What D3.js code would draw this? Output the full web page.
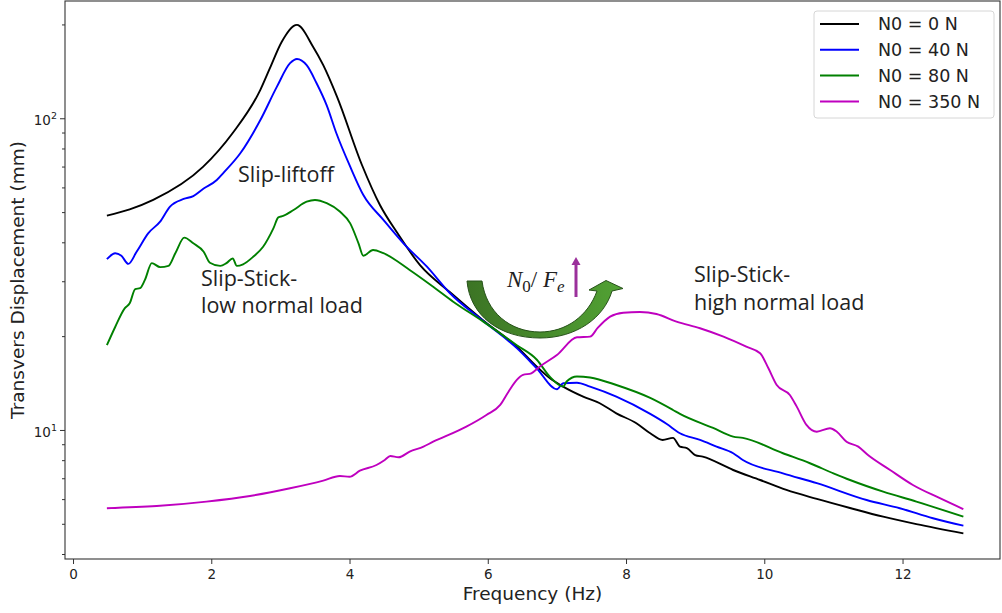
<!DOCTYPE html>
<html>
<head>
<meta charset="utf-8">
<script src="https://cdn.jsdelivr.net/npm/d3@7"></script>
<style>
  body { margin: 0; background: #fff; }
  svg { display: block; }
  text { font-family: "DejaVu Sans", sans-serif; fill: #222; }
</style>
</head>
<body>
<div id="chart"></div>
<script>
// values (frequency in Hz, displacement in mm)
const freq0 = [0.49,0.82,1.16,1.88,2.31,2.71,2.85,3.02,3.24,3.47,3.62,3.82,4.18,4.44,4.69,5.02,5.45,5.93,6.42,6.71,6.90,7.09,7.38,7.62,7.86,8.15,8.35,8.53,8.68,8.78,8.88,9.00,9.11,9.55,9.94,10.32,10.76,11.24,11.72,12.20,12.88];
const amp0 = [48.7,51.0,54.7,69.8,89.7,123.3,145,176,199.3,170,148,117.1,70.8,52.7,42.9,33.8,27.7,22.5,18.5,15.96,14.65,13.77,12.79,12.18,11.31,10.51,9.76,9.29,9.43,8.84,8.75,8.31,8.21,7.44,6.91,6.42,6.01,5.62,5.27,4.99,4.66];

const freq40 = [0.49,0.61,0.70,0.80,0.92,1.09,1.26,1.40,1.60,1.74,1.89,2.08,2.17,2.42,2.71,2.95,3.14,3.24,3.38,3.52,3.67,3.81,4.01,4.20,4.49,4.78,5.12,5.45,5.93,6.42,6.71,7.00,7.09,7.29,7.48,7.86,8.35,8.59,8.78,9.07,9.31,9.55,9.69,10.27,10.76,11.48,11.96,12.44,12.88];
const amp40 = [35.3,36.9,36.2,34.1,37.3,42.8,46.6,52.0,55.1,56.3,59.5,63.4,66.6,77.2,98.7,126.3,150.2,155.0,148,130,110,89.5,69.9,56.7,47.2,39.7,33.4,27.5,22.4,18.3,15.75,13.51,14.12,14.18,13.77,12.79,11.26,10.45,9.76,9.29,8.84,8.42,8.01,7.26,6.75,5.96,5.61,5.21,4.93];

const freq80 = [0.49,0.61,0.75,0.82,0.90,0.97,1.04,1.14,1.26,1.38,1.48,1.61,1.74,1.89,1.98,2.13,2.22,2.31,2.37,2.46,2.61,2.75,2.90,2.97,3.04,3.19,3.38,3.50,3.67,3.86,4.01,4.13,4.20,4.34,4.49,4.87,5.21,5.50,5.93,6.42,6.71,6.90,7.09,7.14,7.29,7.48,7.86,8.35,8.68,8.78,9.26,9.55,9.69,10.27,10.66,11.00,11.24,11.72,12.20,12.88];
const amp80 = [18.7,21.4,24.6,25.5,28.3,28.5,30.3,34.3,33.3,33.6,36.9,41.4,39.7,37.3,34.4,33.6,34.3,35.5,33.6,34.0,36.0,38.7,44.4,48.1,48.6,50.8,54.0,54.7,53.4,50.2,46.0,39.7,36.2,37.8,36.9,32.6,28.8,25.8,22.3,18.7,16.8,14.8,13.77,14.3,14.85,14.74,13.94,12.67,11.59,11.26,10.15,9.52,9.43,8.42,7.82,7.26,6.91,6.34,5.89,5.27];

const freq350 = [0.49,1.21,1.93,2.56,3.14,3.62,3.86,4.00,4.15,4.39,4.51,4.59,4.71,4.87,5.07,5.21,5.36,5.69,5.98,6.18,6.30,6.42,6.51,6.63,6.75,7.00,7.29,7.48,7.59,7.77,7.96,8.20,8.44,8.73,9.07,9.41,9.74,9.94,10.06,10.18,10.37,10.47,10.61,10.76,10.95,11.05,11.19,11.36,11.50,11.82,12.15,12.54,12.88];
const amp350 = [5.61,5.70,5.89,6.14,6.50,6.88,7.12,7.08,7.40,7.72,8.01,8.25,8.17,8.52,8.84,9.17,9.48,10.25,11.17,12.03,13.27,14.47,15.02,15.20,15.96,17.40,19.83,19.92,21.25,23.09,23.78,23.91,23.56,22.26,21.20,19.92,18.50,17.62,15.77,13.94,12.95,11.88,10.38,9.87,10.13,9.87,9.17,8.84,8.31,7.44,6.66,6.04,5.57];

const seriesLabels = ["N0 = 0 N", "N0 = 40 N", "N0 = 80 N", "N0 = 350 N"];
const seriesColors = ["#000000", "#0000ff", "#008000", "#bf00bf"];
const xTicks = [0, 2, 4, 6, 8, 10, 12];
const yMajorTicks = [10, 100];
const yMajorExp = ["1", "2"];
const yMinorTicks = [4, 5, 6, 7, 8, 9, 20, 30, 40, 50, 60, 70, 80, 90, 200];

const series = [
  { label: seriesLabels[0], color: seriesColors[0], f: freq0, a: amp0 },
  { label: seriesLabels[1], color: seriesColors[1], f: freq40, a: amp40 },
  { label: seriesLabels[2], color: seriesColors[2], f: freq80, a: amp80 },
  { label: seriesLabels[3], color: seriesColors[3], f: freq350, a: amp350 }
];

const W = 1002, H = 613;
const plotLeft = 65, plotRight = 1000, plotTop = 1, plotBottom = 559;

const svg = d3.select("#chart").append("svg")
  .attr("width", W).attr("height", H);

const x = d3.scaleLinear().domain([-0.116, 13.41]).range([plotLeft, plotRight]);
const y = d3.scaleLog().domain([3.855, 237.8]).range([plotBottom, plotTop]);

svg.append("clipPath").attr("id", "plot-clip")
  .append("rect").attr("x", plotLeft).attr("y", plotTop)
  .attr("width", plotRight - plotLeft).attr("height", plotBottom - plotTop);

// lines
const line = d3.line()
  .x(d => x(d[0]))
  .y(d => y(d[1]))
  .curve(d3.curveMonotoneX);

svg.append("g").attr("clip-path", "url(#plot-clip)")
  .selectAll("path")
  .data(series)
  .enter()
  .append("path")
  .attr("d", s => line(s.f.map((f, i) => [f, s.a[i]])))
  .attr("fill", "none")
  .attr("stroke", s => s.color)
  .attr("stroke-width", 1.9)
  .attr("stroke-linejoin", "round");

// x axis
const xAxis = svg.append("g")
  .attr("transform", `translate(0,${plotBottom})`)
  .call(d3.axisBottom(x).tickValues(xTicks).tickSize(5).tickPadding(5));
xAxis.select(".domain").remove();
xAxis.selectAll("text").style("font-size", "13.5px").attr("fill", "#222");
xAxis.selectAll("line").attr("stroke", "#333");

// y axis major + minor
const yAxis = svg.append("g")
  .attr("transform", `translate(${plotLeft},0)`)
  .call(d3.axisLeft(y).tickValues(yMajorTicks).tickSize(5).tickFormat(""));
yAxis.select(".domain").remove();
yAxis.selectAll("line").attr("stroke", "#333");

const yMinor = svg.append("g")
  .attr("transform", `translate(${plotLeft},0)`)
  .call(d3.axisLeft(y).tickValues(yMinorTicks).tickSize(3).tickFormat(""));
yMinor.select(".domain").remove();
yMinor.selectAll("line").attr("stroke", "#333");

yMajorTicks.forEach((v, i) => {
  const t = svg.append("text")
    .attr("x", plotLeft - 8)
    .attr("y", y(v) + 7)
    .attr("text-anchor", "end")
    .style("font-size", "13.5px");
  t.append("tspan").text("10");
  t.append("tspan").attr("dy", -6).style("font-size", "9.5px").text(yMajorExp[i]);
});

// spines
svg.append("rect")
  .attr("x", plotLeft).attr("y", plotTop)
  .attr("width", plotRight - plotLeft).attr("height", plotBottom - plotTop)
  .attr("fill", "none").attr("stroke", "#333").attr("stroke-width", 1.1);

// axis labels
svg.append("text")
  .attr("x", (plotLeft + plotRight) / 2).attr("y", 600)
  .attr("text-anchor", "middle")
  .style("font-size", "18.5px")
  .text("Frequency (Hz)");

svg.append("text")
  .attr("transform", `translate(24,${(plotTop + plotBottom) / 2}) rotate(-90)`)
  .attr("text-anchor", "middle")
  .style("font-size", "18.5px")
  .text("Transvers Displacement (mm)");

// legend
const lg = svg.append("g");
lg.append("rect")
  .attr("x", 814).attr("y", 11).attr("width", 180).attr("height", 107)
  .attr("rx", 3).attr("fill", "#fff").attr("stroke", "#d6d6d6");
series.forEach((s, i) => {
  const cy = 24 + i * 25.8;
  lg.append("line")
    .attr("x1", 820).attr("x2", 859).attr("y1", cy).attr("y2", cy)
    .attr("stroke", s.color).attr("stroke-width", 2);
  lg.append("text")
    .attr("x", 878).attr("y", cy + 6.3)
    .style("font-size", "17.5px")
    .text(s.label);
});

// annotations
const notes = [
  ["Slip-liftoff", 238, 182],
  ["Slip-Stick-", 201, 286],
  ["low normal load", 201, 313],
  ["Slip-Stick-", 694, 282],
  ["high normal load", 694, 310]
];
notes.forEach(n => {
  svg.append("text").attr("x", n[1]).attr("y", n[2])
    .style("font-family", "'Open Sans', sans-serif")
    .style("font-size", "21.5px").attr("fill", "#111").text(n[0]);
});

// curved green arrow
const grad = svg.append("defs").append("linearGradient")
  .attr("id", "arrowGrad").attr("x1", "0").attr("x2", "1").attr("y1", "0").attr("y2", "0");
grad.append("stop").attr("offset", "0").attr("stop-color", "#3c7424");
grad.append("stop").attr("offset", "1").attr("stop-color", "#52a234");

svg.append("path")
  .attr("d", "M467,281 L482,281 C486,312 510,332 540,332 C566,332 588,316 597,291 L589,290 L606,280.5 L623,288.5 L612,291 C604,318 576,338 540,338 C500,338 470,316 467,281 Z")
  .attr("fill", "url(#arrowGrad)")
  .attr("stroke", "#27521a").attr("stroke-width", 1);

// N0 / Fe label
const nf = svg.append("text")
  .attr("x", 507).attr("y", 287)
  .style("font-family", "'Liberation Serif', serif")
  .style("font-size", "23px")
  .attr("fill", "#111");
nf.append("tspan").style("font-style", "italic").text("N");
nf.append("tspan").attr("dy", 5).style("font-size", "17px").text("0");
nf.append("tspan").attr("dy", -5).text("/ ");
nf.append("tspan").style("font-style", "italic").text("F");
nf.append("tspan").attr("dy", 5).style("font-size", "17px").style("font-style", "italic").text("e");

// small purple up arrow
svg.append("line")
  .attr("x1", 576).attr("x2", 576).attr("y1", 297).attr("y2", 263)
  .attr("stroke", "#9b309b").attr("stroke-width", 3);
svg.append("path")
  .attr("d", "M571.5,265 L576,257 L580.5,265 Z")
  .attr("fill", "#9b309b");
</script>
</body>
</html>
